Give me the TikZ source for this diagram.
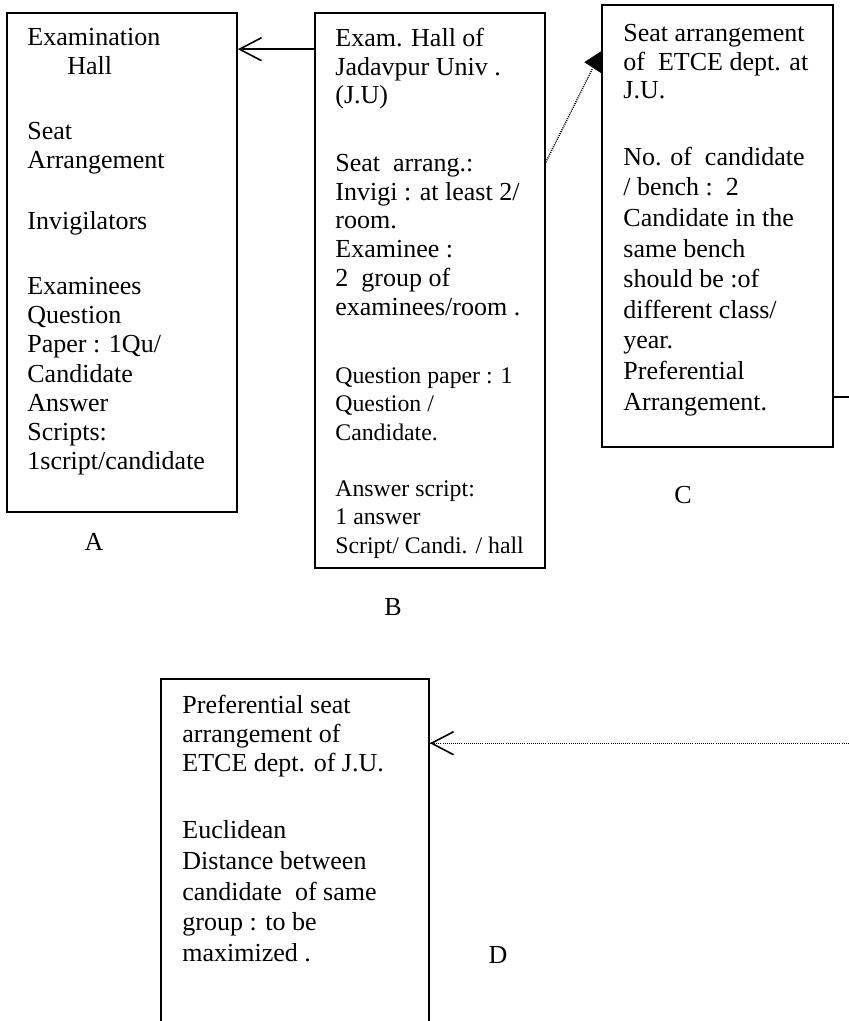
\documentclass[tikz,border=0pt]{standalone}
\usepackage{fontspec}
\setmainfont{Liberation Serif}
\usetikzlibrary{arrows.meta,calc}
\newcommand\fstrut{\rule{0pt}{12pt}}
\begin{document}
\begin{tikzpicture}[x=0.5pt,y=-0.5pt,
  boxnode/.style={draw,line width=0.8pt,rectangle,inner sep=0pt},
  txt/.style={anchor=north west,align=left,inner sep=0pt},
  lbl/.style={font=\fontsize{13pt}{14.4pt}\selectfont,inner sep=0pt},
  openhead/.style={line width=0.8pt,-{Straight Barb[length=11pt,width=11.5pt,line width=0.8pt]}},
  dotline/.style={line width=0.7pt,dash pattern=on 0.5pt off 0.55pt}
]
\useasboundingbox (0,0) rectangle (849,1021);

% boxes
\node[boxnode,minimum width=115pt,minimum height=249.5pt] (A) at (122,262.5) {};
\node[boxnode,minimum width=115pt,minimum height=277.5pt] (B) at (430,290.5) {};
\node[boxnode,minimum width=115.5pt,minimum height=221pt] (C) at (717.5,226) {};
\node[boxnode,minimum width=134pt,minimum height=180.5pt] (D) at (295,859.5) {};

% box A text
\node[txt,font=\fontsize{13pt}{14.6pt}\selectfont] (a1) at (27,21) {\fstrut Examination\\\hspace*{20pt}Hall};
\node[txt,font=\fontsize{13pt}{14.6pt}\selectfont] (a2) at (27,115) {\fstrut Seat\\Arrangement};
\node[txt,font=\fontsize{13pt}{14.6pt}\selectfont] (a3) at (27,205) {\fstrut Invigilators};
\node[txt,font=\fontsize{13pt}{14.6pt}\selectfont] (a4) at (27,270) {\fstrut Examinees\\Question\\Paper : 1Qu/\\Candidate\\Answer\\Scripts:\\1script/candidate};

% box B text
\node[txt,font=\fontsize{13pt}{14.4pt}\selectfont] (b1) at (335,22) {\fstrut Exam. Hall of\\Jadavpur Univ .\\(J.U)};
\node[txt,font=\fontsize{13pt}{14.4pt}\selectfont] (b2) at (335,147) {\fstrut Seat\ \ arrang.:\\Invigi : at least 2/\\room.\\Examinee :\\2\ \ group of\\examinees/room .};
\node[txt,font=\fontsize{11.9pt}{14.25pt}\selectfont] (b3) at (335,359) {\fstrut Question paper : 1\\Question /\\Candidate.};
\node[txt,font=\fontsize{11.9pt}{14.25pt}\selectfont] (b4) at (335,472) {\fstrut Answer script:\\1 answer\\Script/ Candi. / hall};

% box C text
\node[txt,font=\fontsize{13pt}{14.4pt}\selectfont] (c1) at (623,17) {\fstrut Seat arrangement\\of\ \ ETCE dept. at\\J.U.};
\node[txt,font=\fontsize{13pt}{15.3pt}\selectfont] (c2) at (623,141) {\fstrut No. of\ \ candidate\\/ bench :\ \ 2\\Candidate in the\\same bench\\should be :of\\different class/\\year.\\Preferential\\Arrangement.};

% box D text
\node[txt,font=\fontsize{13pt}{14.5pt}\selectfont] (d1) at (182,689) {\fstrut Preferential seat\\arrangement of\\ETCE dept. of J.U.};
\node[txt,font=\fontsize{13pt}{15.4pt}\selectfont] (d2) at (182,814) {\fstrut Euclidean\\Distance between\\candidate\ \ of same\\group : to be\\maximized .};

% labels
\node[lbl] (la) at (94,542) {A};
\node[lbl] (lb) at (393,607) {B};
\node[lbl] (lc) at (683,495) {C};
\node[lbl] (ld) at (498,955) {D};

% connectors
\coordinate (ab) at ($(B.north west)+(0,37)$);
\draw[openhead] (ab) -- (A.east |- ab);

\coordinate (bc0) at ($(B.north east)+(0,150)$);
\coordinate (bc1) at ($(C.north west)+(-9,65)$);
\draw[dotline] (bc0) -- (bc1);
\fill ($(C.north west)+(0,47)$) -- ($(C.north west)+(0,69)$) -- ($(C.north west)+(-17,58)$) -- cycle;

\coordinate (cs) at ($(C.north east)+(0,393)$);
\coordinate (cr) at ($(cs)+(30,0)$);
\draw[line width=0.8pt] (cs) -- (cr);

\coordinate (dm) at ($(D.north east)+(0,65)$);
\coordinate (dr) at ($(dm)+(440,0)$);
\draw[dotline] (dr) -- (dm);
\draw[line width=0.8pt,-{Straight Barb[length=11pt,width=11.5pt,line width=0.8pt]}] ($(dm)+(1,0)$) -- (dm);
\end{tikzpicture}
\end{document}
